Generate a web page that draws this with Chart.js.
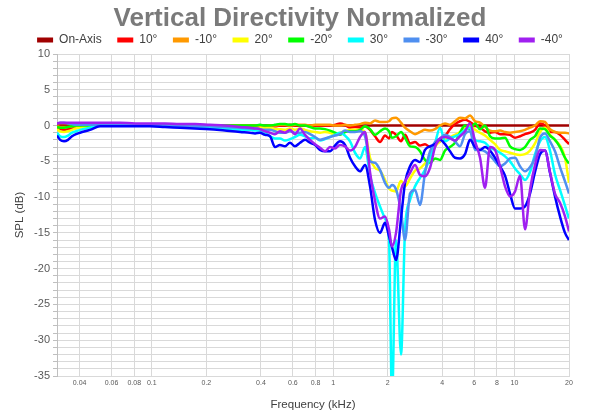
<!DOCTYPE html>
<html>
<head>
<meta charset="utf-8">
<title>Vertical Directivity Normalized</title>
<script src="https://cdn.jsdelivr.net/npm/chart.js@4.4.1/dist/chart.umd.min.js"></script>
<style>
  body { margin: 0; background: #fff; }
  canvas { display: block; }
</style>
</head>
<body>
<canvas id="dirChart" width="600" height="420"></canvas>
<script>
// frequency points in kHz, shared by all off-axis curves
const freq = [
  0.030, 0.0312, 0.0328, 0.0345, 0.0363, 0.0382, 0.0402, 0.0456, 0.0518, 0.0668,
  0.0808, 0.0977, 0.118, 0.143, 0.173, 0.209, 0.253, 0.307, 0.348,
  0.371, 0.395, 0.421, 0.449, 0.478, 0.509, 0.543, 0.578, 0.616, 0.657,
  0.700, 0.746, 0.795, 0.847, 0.902, 0.961, 1.024, 1.092, 1.163, 1.240,
  1.321, 1.408, 1.500, 1.598, 1.703, 1.814, 1.933,
  2.034, 2.113, 2.223, 2.369,
  2.493, 2.656, 2.830, 3.015, 3.213, 3.424, 3.648, 3.887, 4.142, 4.413,
  4.703, 5.011, 5.340, 5.690, 6.063, 6.461, 6.884, 7.335, 7.816, 8.329,
  8.875, 9.456, 10.08, 10.74, 11.44, 12.19, 12.99, 13.84, 14.75, 15.71,
  16.74, 17.84, 19.01, 20.0
];

// on-axis is the reference, flat after normalizing
const onAxisFreq = [0.03, 20];
const onAxis = [0, 0];

const plus10 = [
  -0.3, -0.5, -0.6, -0.5, -0.4, -0.2, -0.1, -0.1, 0, 0, 0, 0, 0, 0, -0.1, -0.1, -0.1, -0.1, -0.1,
  -0.1, -0.1, -0.1, 0, -0.1, 0, 0, 0.1, 0, 0,
  0, -0.1, 0, 0, 0, 0, 0.1, 0.3, 0.1, -0.3,
  -0.2, -0.3, -0.1, -0.6, -1.5, -2.3, -1.4,
  -1.8, -0.9, -1.3, -2.2,
  -1.3, -2.5, -2.3, -2.8, -2.6, -3.0, -2.6, -2.2, -1.5, -0.5,
  0.2, 0.6, 0.8, 0.5, 0, -0.3, -0.8, -1.0, -0.9, -1.2,
  -1.2, -1.3, -1.7, -1.5, -1.2, -1.0, -0.6, 0.3, 0, -0.9,
  -0.9, -1.3, -2.0, -2.6
];

const minus10 = [
  -0.1, -0.2, -0.2, -0.2, -0.1, -0.1, 0, 0, 0, 0.1, 0.1, 0.1, 0, 0, 0, 0, 0, 0, 0,
  0, 0, -0.1, 0, 0, 0.1, 0.1, 0, 0.1, 0.1,
  0.1, 0, 0.1, 0.1, 0.1, 0.1, 0, 0, 0.1, 0,
  0.1, 0.2, 0.4, 0.3, 0.7, 0.5, 0.5,
  0.6, 1.0, 1.1, 0.4,
  -0.3, -0.8, -1.2, -0.9, -0.6, -0.7, -0.5, 0, 0.3, 0.1,
  0.6, 1.1, 1.0, 1.4, 0.6, 0.4, -0.2, -0.7, -0.8, -0.7,
  -0.9, -1.0, -0.9, -0.8, -0.6, -0.3, 0, 0.6, 0.5, -0.5,
  -0.9, -1.0, -1.0, -1.1
];

const plus20 = [
  -0.5, -0.8, -0.9, -0.8, -0.6, -0.4, -0.3, -0.1, 0, 0, 0, 0, -0.1, -0.1, -0.2, -0.2, -0.3, -0.4, -0.4,
  -0.4, -0.3, -0.4, -0.3, -0.5, -0.5, -0.6, -0.4, -0.6, -0.4,
  -0.6, -0.8, -0.9, -1.0, -0.9, -1.0, -1.3, -1.0, -0.8, -0.6,
  -0.6, -0.6, -1.0, -4.5, -5.9, -6.3, -7.6,
  -8.8, -9.1, -9.2, -7.7,
  -8.5, -7.4, -6.3, -6.0, -5.3, -4.8, -3.0, -2.2, -1.9, -1.6,
  -1.3, -0.9, -0.4, 0, -0.6, -1.0, -1.4, -2.0, -2.6, -3.4,
  -3.6, -3.8, -4.0, -4.1, -4.0, -3.5, -2.5, -0.9, -0.3, -1.3,
  -2.0, -2.8, -4.5, -8.0
];

const minus20 = [
  -0.2, -0.3, -0.3, -0.2, -0.1, 0, 0, 0, 0.1, 0.1, 0.1, 0.1, 0.1, 0.1, 0, 0, 0, 0, 0,
  0, 0.1, 0, 0, 0.1, 0.2, 0.2, 0.1, 0.2, 0,
  0, -0.2, -0.4, -0.4, -0.5, -0.7, -1.0, -1.3, -0.9, -0.8,
  -0.8, -0.6, -0.1, -0.5, -1.3, -0.8, -0.4,
  -0.8, -1.7, -1.5, -0.9,
  -1.7, -2.9, -3.0, -3.6, -4.8, -5.2, -4.6, -4.8, -3.5, -3.0,
  -2.4, -1.0, 0, -0.5, 0.3, -0.5, 0, -1.5, -1.8, -1.8,
  -1.7, -2.9, -3.3, -3.4, -3.0, -2.0, -1.5, -0.4, -0.5, -1.4,
  -2.0, -3.0, -4.5, -5.3
];

const plus30 = [
  -1.0, -1.5, -1.6, -1.4, -1.0, -0.8, -0.6, -0.3, 0, 0, 0.1, 0, 0, -0.1, -0.2, -0.3, -0.4, -0.6, -0.6,
  -0.7, -0.7, -1.0, -1.5, -1.8, -1.8, -2.1, -1.9, -1.6, -1.3,
  -1.5, -1.8, -1.7, -2.1, -1.9, -1.6, -1.3, -1.0, -1.4, -2.2,
  -3.8, -4.6, -3.0, -7.0, -9.4, -11.3, -13.0,
  -16.0, -38.0, -16.0, -32.0,
  -14.5, -10.4, -8.5, -7.3, -6.2, -4.5, -2.5, -0.3, -2.2, -1.8,
  -1.5, -1.2, -0.6, -0.3, -2.0, -2.2, -2.4, -3.1, -3.4, -3.8,
  -4.3, -5.0, -6.0, -6.8, -7.6, -6.5, -4.0, -2.2, -1.6, -3.5,
  -6.8, -9.0, -11.2, -13.0
];

const minus30 = [
  0.3, 0.4, 0.4, 0.3, 0.2, 0.1, 0.1, 0.1, 0.1, 0.1, 0.1, 0.1, 0, 0, -0.1, -0.1, -0.2, -0.3, -0.4,
  -0.4, -0.5, -0.6, -0.6, -0.8, -1.0, -1.0, -0.8, -1.0, -1.0,
  -0.9, -1.2, -1.6, -2.0, -1.8, -1.6, -1.4, -1.2, -0.7, -0.9,
  -0.9, -0.8, -1.5, -5.0, -5.2, -6.2, -8.0,
  -8.7, -8.3, -8.9, -12.0,
  -16.0, -9.5, -9.0, -11.1, -6.6, -3.6, -2.3, -1.8, -1.3, -1.6,
  -2.2, -2.9, -1.2, -0.8, -3.4, -3.4, -3.6, -4.2, -5.0, -5.7,
  -5.3, -4.6, -4.5, -5.7, -6.4, -5.8, -4.5, -1.7, -1.1, -2.2,
  -3.6, -5.8, -7.8, -9.5
];

const plus40 = [
  -1.4, -2.0, -2.2, -2.0, -1.5, -1.2, -1.0, -0.6, -0.1, -0.1, -0.1, -0.1, -0.2, -0.3, -0.4, -0.5, -0.7, -0.9, -1.0,
  -1.1, -1.0, -1.3, -1.5, -3.0, -2.7, -2.9, -2.4, -2.9, -2.4,
  -2.0, -2.4, -2.7, -3.4, -3.6, -3.6, -2.8, -2.2, -2.7, -4.5,
  -5.7, -6.4, -5.5, -8.5, -13.2, -15.0, -13.6,
  -15.5, -17.0, -18.8, -13.0,
  -8.0, -5.7, -4.8, -5.1, -3.4, -2.9, -2.6, -2.0, -2.6, -3.6,
  -4.5, -4.6, -4.0, -2.0, -3.0, -3.4, -3.0, -3.5, -4.5, -5.7,
  -7.0, -9.5, -11.6, -11.6, -11.3, -9.5, -6.5, -4.0, -3.5, -6.6,
  -9.9, -12.7, -15.0, -16.0
];

const minus40 = [
  0.3, 0.4, 0.4, 0.4, 0.4, 0.4, 0.4, 0.4, 0.4, 0.4, 0.3, 0.3, 0.3, 0.2, 0.2, 0.1, 0, -0.2, -0.3,
  -0.4, -0.5, -0.8, -1.0, -1.2, -0.8, -1.0, -0.6, -1.2, -0.4,
  -1.3, -2.0, -2.6, -3.1, -3.6, -3.0, -3.2, -2.7, -2.9, -3.5,
  -3.0, -1.6, -0.9, -6.5, -10.5, -13.0, -12.7,
  -14.5, -16.9, -15.0, -9.0,
  -7.8, -6.6, -5.5, -6.9, -7.1, -5.9, -3.0, -1.8, -1.6, -1.8,
  -2.1, -1.5, -0.8, 0.3, -2.2, -4.5, -8.7, -3.0, -3.4, -5.7,
  -8.5, -9.9, -9.2, -7.0, -14.5, -9.0, -5.5, -3.4, -3.5, -6.5,
  -9.5, -10.8, -12.7, -14.8
];

const xTicks = [0.04, 0.06, 0.08, 0.1, 0.2, 0.4, 0.6, 0.8, 1, 2, 4, 6, 8, 10, 20];

const series = [
  { label: "On-Axis", f: onAxisFreq, v: onAxis, color: "#a00000" },
  { label: "10°", f: freq, v: plus10, color: "#ff0000" },
  { label: "-10°", f: freq, v: minus10, color: "#ff9900" },
  { label: "20°", f: freq, v: plus20, color: "#ffff00" },
  { label: "-20°", f: freq, v: minus20, color: "#00ff00" },
  { label: "30°", f: freq, v: plus30, color: "#00ffff" },
  { label: "-30°", f: freq, v: minus30, color: "#4f8ff0" },
  { label: "40°", f: freq, v: plus40, color: "#0000ff" },
  { label: "-40°", f: freq, v: minus40, color: "#a020f0" }
];

Chart.defaults.font.family = '"Liberation Sans", Arial, sans-serif';

// the legend sits tight under the title, so pin its height
const legendHeight = {
  id: "legendHeight",
  beforeInit(chart) {
    const fit = chart.legend.fit;
    chart.legend.fit = function () {
      fit.call(this);
      this.height = 35.5;
    };
  }
};

const ctx = document.getElementById("dirChart").getContext("2d");
new Chart(ctx, {
  type: "line",
  data: {
    datasets: series.map((s, i) => ({
      label: s.label,
      data: s.f.map((f, j) => ({ x: f, y: s.v[j] })),
      borderColor: s.color,
      backgroundColor: s.color,
      borderWidth: 2.5,
      pointRadius: 0,
      fill: false,
      cubicInterpolationMode: "monotone",
      order: series.length - 1 - i
    }))
  },
  options: {
    responsive: false,
    animation: false,
    layout: { padding: 0 },
    plugins: {
      title: {
        display: true,
        text: "Vertical Directivity Normalized",
        color: "#7a7a7a",
        font: { size: 26, weight: "bold", lineHeight: 1.2 },
        padding: { top: 3, bottom: -15.7 }
      },
      legend: {
        position: "top",
        labels: {
          color: "#404040",
          font: { size: 12 },
          boxWidth: 16,
          boxHeight: 5,
          padding: 15.5,
          sort: (a, b) => a.datasetIndex - b.datasetIndex,
          generateLabels: chart =>
            Chart.defaults.plugins.legend.labels.generateLabels(chart).map(l => ({
              ...l, lineWidth: 0, fillStyle: l.strokeStyle
            }))
        }
      },
      tooltip: { enabled: false }
    },
    scales: {
      x: {
        type: "logarithmic",
        min: 0.03,
        max: 20,
        afterBuildTicks: axis => { axis.ticks = xTicks.map(v => ({ value: v })); },
        afterFit: axis => { axis.height = 44; },
        ticks: {
          autoSkip: false,
          maxRotation: 0,
          padding: 3,
          color: "#595959",
          font: { size: 7 },
          callback: v => String(v)
        },
        grid: { color: "#d9d9d9", drawTicks: false },
        border: { color: "#d9d9d9" },
        title: {
          display: true,
          text: "Frequency (kHz)",
          color: "#404040",
          font: { size: 11.5 },
          padding: { top: 0, bottom: 8 }
        }
      },
      y: {
        min: -35,
        max: 10,
        afterFit: axis => { axis.width = 57; },
        ticks: {
          stepSize: 1,
          maxTicksLimit: 100,
          autoSkip: false,
          padding: 3,
          color: "#595959",
          font: { size: 11 },
          callback: v => (v % 5 === 0 ? v : "")
        },
        grid: { color: "#d9d9d9", tickColor: "#bfbfbf", tickLength: 4 },
        border: { color: "#bfbfbf" },
        title: {
          display: true,
          text: "SPL (dB)",
          color: "#404040",
          font: { size: 11.5 },
          padding: { top: 13, bottom: 0 }
        }
      },
      // empty right-hand axis keeps the plot off the right edge
      yRight: {
        position: "right",
        display: true,
        afterFit: axis => { axis.width = 31; },
        ticks: { display: false },
        grid: { display: false },
        border: { display: false }
      }
    }
  },
  plugins: [legendHeight]
});
</script>
</body>
</html>
